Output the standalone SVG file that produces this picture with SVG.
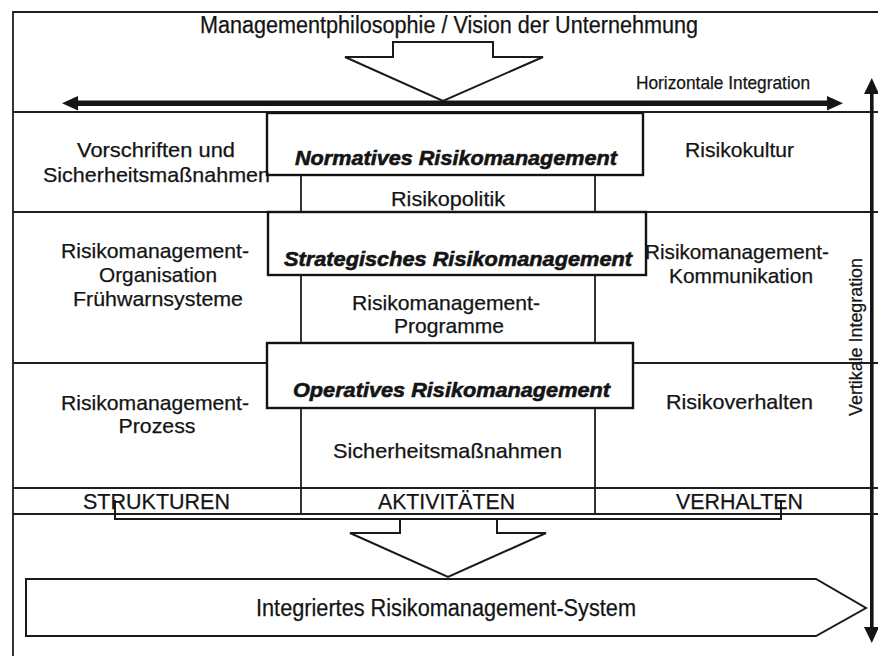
<svg xmlns="http://www.w3.org/2000/svg" width="878" height="656" viewBox="0 0 878 656">
<style>
  .t{font-family:"Liberation Sans",Arial,sans-serif;font-size:21px;fill:#141414;stroke:#141414;stroke-width:0.25;text-anchor:middle}
  .b{font-weight:bold;font-style:italic;stroke-width:0.6}
  .g{stroke:#1e1e1e;stroke-width:1.8;fill:none}
  .box{stroke:#131313;stroke-width:2.4;fill:#fff}
  .blk{stroke:#1a1a1a;stroke-width:2;fill:#fff;stroke-linejoin:miter}
</style>
<rect width="878" height="656" fill="#fff"/>

<g id="grid" class="g">
  <path d="M13 656 V12 H878"/>
  <path d="M13 112 H878 M13 212 H878 M13 363 H878 M13 488 H878 M13 514 H878"/>
  <path d="M301 112 V514 M595 112 V514"/>
</g>

<g id="title">
  <text class="t" x="449" y="33" style="font-size:23px" textLength="498" lengthAdjust="spacingAndGlyphs">Managementphilosophie / Vision der Unternehmung</text>
</g>

<g id="connectors">
  <!-- top block arrow -->
  <polygon class="blk" points="393,42 493,42 493,57 543,57 443,101 345,57 393,57"/>
  <!-- horizontal integration double arrow -->
  <rect x="75" y="100.5" width="754" height="5.5" fill="#151515"/>
  <polygon points="62,103.2 78,96 78,110.5" fill="#151515"/>
  <polygon points="843,103.2 827,96 827,110.5" fill="#151515"/>
  <!-- vertical integration double arrow -->
  <rect x="870" y="90" width="3.6" height="540" fill="#151515"/>
  <polygon points="871.8,78 864,94 879,94" fill="#151515"/>
  <polygon points="871.8,643 864,627 879,627" fill="#151515"/>
  <!-- bracket -->
  <path d="M115 500 V519 H781 V500" fill="none" stroke="#1a1a1a" stroke-width="2"/>
  <!-- bottom block arrow -->
  <polygon class="blk" points="400,519 497,519 497,533 546,533 448,577 350,533 400,533"/>
</g>

<g id="horizontal-label">
  <text class="t" style="font-size:18.5px" x="723" y="89" textLength="174" lengthAdjust="spacingAndGlyphs">Horizontale Integration</text>
</g>
<g id="vertical-label">
  <text class="t" style="font-size:18px" transform="translate(862,337) rotate(-90)" x="0" y="0" textLength="158" lengthAdjust="spacingAndGlyphs">Vertikale Integration</text>
</g>

<g id="normativ">
  <rect class="box" x="267" y="113" width="376" height="62"/>
  <text class="t b" x="456" y="165" textLength="322" lengthAdjust="spacingAndGlyphs">Normatives Risikomanagement</text>
</g>
<g id="strategisch">
  <rect class="box" x="268" y="212" width="378" height="63"/>
  <text class="t b" x="458" y="266" textLength="348" lengthAdjust="spacingAndGlyphs">Strategisches Risikomanagement</text>
</g>
<g id="operativ">
  <rect class="box" x="267" y="343" width="366" height="65"/>
  <text class="t b" x="451.5" y="397" textLength="317" lengthAdjust="spacingAndGlyphs">Operatives Risikomanagement</text>
</g>

<g id="vorschriften">
  <text class="t" x="156" y="157" textLength="158" lengthAdjust="spacingAndGlyphs">Vorschriften und</text>
  <text class="t" x="156.5" y="182" textLength="227" lengthAdjust="spacingAndGlyphs">Sicherheitsmaßnahmen</text>
</g>
<g id="risikokultur">
  <text class="t" x="739.5" y="157" textLength="109" lengthAdjust="spacingAndGlyphs">Risikokultur</text>
</g>
<g id="risikopolitik">
  <text class="t" x="448" y="206" textLength="114" lengthAdjust="spacingAndGlyphs">Risikopolitik</text>
</g>
<g id="organisation">
  <text class="t" x="155" y="258" textLength="188" lengthAdjust="spacingAndGlyphs">Risikomanagement-</text>
  <text class="t" x="158" y="282" textLength="118" lengthAdjust="spacingAndGlyphs">Organisation</text>
  <text class="t" x="158" y="306" textLength="170" lengthAdjust="spacingAndGlyphs">Frühwarnsysteme</text>
</g>
<g id="kommunikation">
  <text class="t" x="737" y="259" textLength="184" lengthAdjust="spacingAndGlyphs">Risikomanagement-</text>
  <text class="t" x="741" y="283" textLength="144" lengthAdjust="spacingAndGlyphs">Kommunikation</text>
</g>
<g id="programme">
  <text class="t" x="446" y="310" textLength="188" lengthAdjust="spacingAndGlyphs">Risikomanagement-</text>
  <text class="t" x="449" y="333" textLength="110" lengthAdjust="spacingAndGlyphs">Programme</text>
</g>
<g id="prozess">
  <text class="t" x="155" y="410" textLength="188" lengthAdjust="spacingAndGlyphs">Risikomanagement-</text>
  <text class="t" x="157" y="433" textLength="77" lengthAdjust="spacingAndGlyphs">Prozess</text>
</g>
<g id="risikoverhalten">
  <text class="t" x="739.5" y="409" textLength="147" lengthAdjust="spacingAndGlyphs">Risikoverhalten</text>
</g>
<g id="sicherheitsmassnahmen">
  <text class="t" x="447.5" y="458" textLength="229" lengthAdjust="spacingAndGlyphs">Sicherheitsmaßnahmen</text>
</g>

<g id="strukturen">
  <text class="t" style="font-size:22px" x="156.5" y="509" textLength="147" lengthAdjust="spacingAndGlyphs">STRUKTUREN</text>
</g>
<g id="aktivitaeten">
  <text class="t" style="font-size:22px" x="446.5" y="509" textLength="137" lengthAdjust="spacingAndGlyphs">AKTIVITÄTEN</text>
</g>
<g id="verhalten">
  <text class="t" style="font-size:22px" x="739.5" y="509" textLength="127" lengthAdjust="spacingAndGlyphs">VERHALTEN</text>
</g>

<g id="system">
  <polygon class="blk" points="26,579 816,579 866,608 816,636 26,636"/>
  <text class="t" style="font-size:23.5px" x="446" y="616" textLength="380" lengthAdjust="spacingAndGlyphs">Integriertes Risikomanagement-System</text>
</g>
</svg>
